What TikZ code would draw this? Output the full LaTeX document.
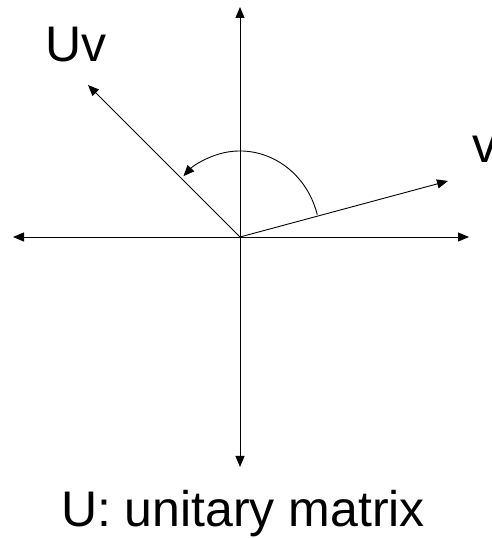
\documentclass[tikz,border=0pt]{standalone}
\usepackage{fontspec}
\setmainfont{Liberation Sans}
\usetikzlibrary{arrows.meta, calc}
\tikzset{
  axis/.style={{Triangle[length=11pt,width=9pt]}-{Triangle[length=11pt,width=9pt]}, line width=0.9pt},
  arrow/.style={-{Triangle[length=11pt,width=9pt]}, line width=0.9pt},
  label/.style={font=\fontsize{50}{60}\selectfont, inner sep=0pt},
}
\begin{document}
\begin{tikzpicture}[x=1pt, y=1pt]
\useasboundingbox (0,0) rectangle (492,538);
\coordinate (O) at (240,301);
\coordinate (xl) at (13,301);
\coordinate (xr) at (469,301);
\coordinate (yt) at (240,531);
\coordinate (yb) at (240,71);
\coordinate (v) at (448,357);
\coordinate (uv) at (88,453);
\node (uvlabel) [label, anchor=base west] at (45,476) {Uv};
\node (vlabel) [label, anchor=base west] at (472,375) {v};
\node (caption) [label, anchor=base] at (243,11) {U: unitary matrix};
\draw[axis] (xl) -- (xr);
\draw[axis] (yb) -- (yt);
\draw[arrow] (O) -- (v);
\draw[arrow] (O) -- (uv);
\draw[arrow] ($(O)+(15:80 and 86)$) arc[start angle=15, end angle=135, x radius=80, y radius=86];
\end{tikzpicture}
\end{document}
